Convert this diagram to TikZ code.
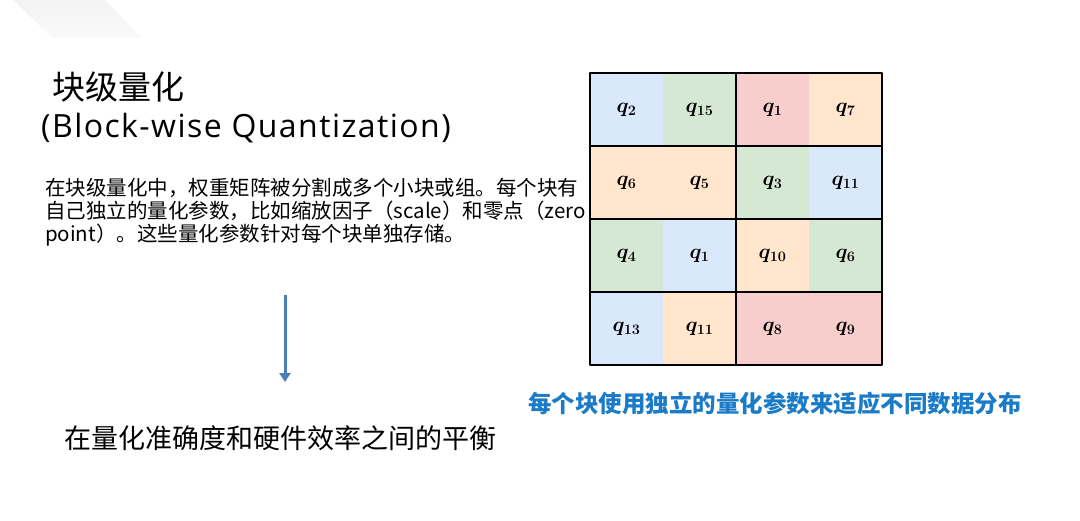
\documentclass[tikz,border=0pt]{standalone}
\usepackage{fontspec}
\setmainfont{Noto Sans CJK SC}
\newfontfamily\latinfont{Open Sans}[LetterSpace=4.5]
\usetikzlibrary{arrows.meta}

\definecolor{cellblue}{HTML}{DAE8FC}
\definecolor{cellgreen}{HTML}{D5E8D4}
\definecolor{cellred}{HTML}{F8CECC}
\definecolor{cellorange}{HTML}{FFE6CC}
\definecolor{capblue}{HTML}{1C7BC6}
\definecolor{arrowblue}{HTML}{4A7EBB}

\begin{document}
\begin{tikzpicture}[
			x=1pt, y=-1pt,
			every node/.style={inner sep=0pt},
			cell/.style={minimum width=73pt, minimum height=73pt, font=\boldmath\fontsize{21}{21}\selectfont},
			blockline/.style={line width=2pt, black},
			line cap=round,
			line join=round
			]
			\useasboundingbox (0,0) rectangle (1080,520);
			
			% Corner shade
			\shade[top color=black!5, bottom color=black!2] (13,0) -- (105,0) -- (142,38) -- (52,38) -- cycle;
			
			% Heading
			\node[anchor=west, font=\fontsize{33}{33}\selectfont] (title) at (52,87) {块级量化};
			\node[anchor=west, font=\latinfont\fontsize{32}{32}\selectfont] (subtitle) at (41,128) {(Block-wise Quantization)};
			
			% Description
			\node[anchor=north west, align=left, font=\fontsize{20.5}{23}\selectfont] (desc) at (45,178) {在块级量化中，权重矩阵被分割成多个小块或组。每个块有\\自己独立的量化参数，比如缩放因子（scale）和零点（zero\\point）。这些量化参数针对每个块单独存储。};
			
			% Arrow
			\coordinate (arrtop) at (285,295);
			\coordinate (arrbot) at (285,382);
			\draw[arrowblue, line width=3pt, line cap=butt, -{Triangle[length=9pt, width=11pt]}] (arrtop) -- (arrbot);
			
			% Conclusion
			\node[anchor=west, font=\fontsize{27}{27}\selectfont] (balance) at (64,438) {在量化准确度和硬件效率之间的平衡};
			
			% Cells
			\node[cell, fill=cellblue] (c11) at (626.5,109.5) {$q_{2}$};
			\node[cell, fill=cellgreen] (c12) at (699.5,109.5) {$q_{15}$};
			\node[cell, fill=cellred] (c13) at (772.5,109.5) {$q_{1}$};
			\node[cell, fill=cellorange] (c14) at (845.5,109.5) {$q_{7}$};
			
			\node[cell, fill=cellorange] (c21) at (626.5,182.5) {$q_{6}$};
			\node[cell, fill=cellorange] (c22) at (699.5,182.5) {$q_{5}$};
			\node[cell, fill=cellgreen] (c23) at (772.5,182.5) {$q_{3}$};
			\node[cell, fill=cellblue] (c24) at (845.5,182.5) {$q_{11}$};
			
			\node[cell, fill=cellgreen] (c31) at (626.5,255.5) {$q_{4}$};
			\node[cell, fill=cellblue] (c32) at (699.5,255.5) {$q_{1}$};
			\node[cell, fill=cellorange] (c33) at (772.5,255.5) {$q_{10}$};
			\node[cell, fill=cellgreen] (c34) at (845.5,255.5) {$q_{6}$};
			
			\node[cell, fill=cellblue] (c41) at (626.5,328.5) {$q_{13}$};
			\node[cell, fill=cellorange] (c42) at (699.5,328.5) {$q_{11}$};
			\node[cell, fill=cellred] (c43) at (772.5,328.5) {$q_{8}$};
			\node[cell, fill=cellred] (c44) at (845.5,328.5) {$q_{9}$};
			
			% Block borders
			\draw[blockline] (c11.north west) rectangle (c44.south east);
			\draw[blockline] (c12.north east) -- (c42.south east);
			\draw[blockline] (c21.north west) -- (c24.north east);
			\draw[blockline] (c31.north west) -- (c34.north east);
			\draw[blockline] (c41.north west) -- (c44.north east);
			
			% Caption
			\node[font=\bfseries\fontsize{23.5}{23.5}\selectfont, text=capblue] (caption) at (775,403) {每个块使用独立的量化参数来适应不同数据分布};
		\end{tikzpicture}
\end{document}
